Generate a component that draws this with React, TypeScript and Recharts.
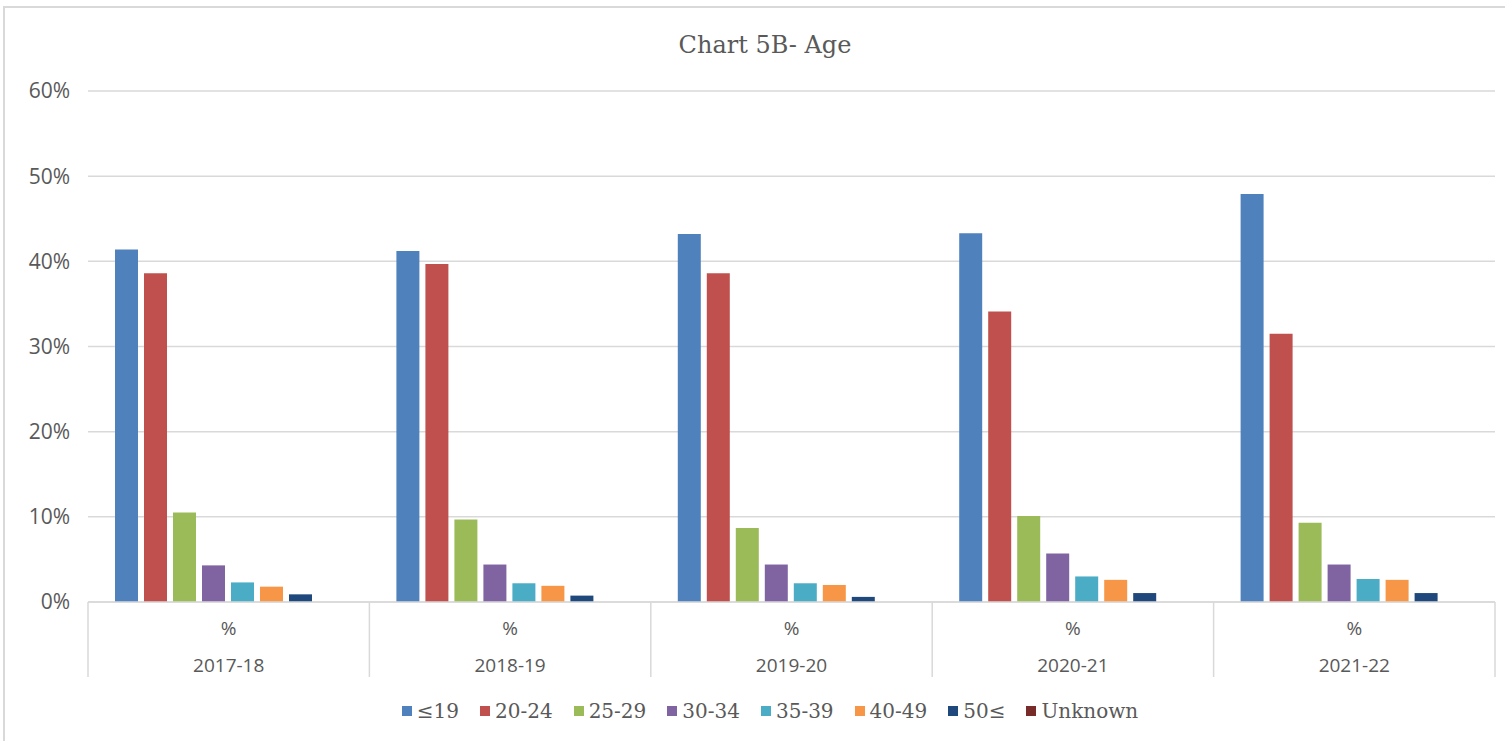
import React from 'react';
import { BarChart, Bar, XAxis, YAxis, CartesianGrid, Legend } from 'recharts';

const years = ['2017-18', '2018-19', '2019-20', '2020-21', '2021-22'];
const subLabel = '%';
const under19 = [41.4, 41.2, 43.2, 43.3, 47.9];
const age2024 = [38.6, 39.7, 38.6, 34.1, 31.5];
const age2529 = [10.5, 9.7, 8.7, 10.1, 9.3];
const age3034 = [4.3, 4.4, 4.4, 5.7, 4.4];
const age3539 = [2.3, 2.2, 2.2, 3.0, 2.7];
const age4049 = [1.8, 1.9, 2.0, 2.6, 2.6];
const age50plus = [0.9, 0.75, 0.6, 1.05, 1.05];
const unknown = [0, 0, 0, 0, 0];
const yTicks = [0, 10, 20, 30, 40, 50, 60];

const seriesDefs = [
  { key: 'u19', name: '≤19', color: '#4f81bd', values: under19 },
  { key: 'a2024', name: '20-24', color: '#c0504d', values: age2024 },
  { key: 'a2529', name: '25-29', color: '#9bbb59', values: age2529 },
  { key: 'a3034', name: '30-34', color: '#8064a2', values: age3034 },
  { key: 'a3539', name: '35-39', color: '#4bacc6', values: age3539 },
  { key: 'a4049', name: '40-49', color: '#f79646', values: age4049 },
  { key: 'a50', name: '50≤', color: '#1f497d', values: age50plus },
  { key: 'unk', name: 'Unknown', color: '#772c2a', values: unknown },
];

const data = years.map((y, i) => {
  const row: any = { year: y };
  seriesDefs.forEach((s) => {
    row[s.key] = s.values[i];
  });
  return row;
});

const GRID = '#d9d9d9';
const TEXT = '#595959';

const CatTick = (props: any) => {
  const { x, y, payload, index, width, visibleTicksCount } = props;
  const n = visibleTicksCount || years.length;
  const half = width / n / 2;
  return (
    <g>
      <line x1={x - half} x2={x - half} y1={y} y2={y + 75} stroke={GRID} strokeWidth={1.5} />
      {index === n - 1 && (
        <line x1={x + half} x2={x + half} y1={y} y2={y + 75} stroke={GRID} strokeWidth={1.5} />
      )}
      <text x={x} y={y + 33} textAnchor="middle" fill={TEXT} fontSize={19} fontFamily="'Open Sans', sans-serif">
        {subLabel}
      </text>
      <text x={x} y={y + 70} textAnchor="middle" fill={TEXT} fontSize={19} fontFamily="'Open Sans', sans-serif">
        {payload.value}
      </text>
    </g>
  );
};

const LegendContent = (props: any) => {
  const payload = [...(props.payload || [])].sort(
    (a: any, b: any) =>
      seriesDefs.findIndex((s) => s.key === a.dataKey) - seriesDefs.findIndex((s) => s.key === b.dataKey)
  );
  return (
    <div
      style={{
        display: 'flex',
        justifyContent: 'center',
        alignItems: 'center',
        height: 30,
        paddingLeft: 35,
        fontFamily: "'DejaVu Serif', serif",
        fontSize: 20,
        color: TEXT,
      }}
    >
      {payload.map((p: any, i: number) => (
        <div key={i} style={{ display: 'flex', alignItems: 'center', marginRight: i < payload.length - 1 ? 21 : 0 }}>
          <span style={{ display: 'inline-block', width: 10, height: 10, background: p.color, marginRight: 5 }} />
          <span>{p.value}</span>
        </div>
      ))}
    </div>
  );
};

export default function App() {
  return (
    <div style={{ position: 'absolute', left: 0, top: 0, width: 1505, height: 741, background: '#fff', overflow: 'hidden' }}>
      <div
        style={{
          position: 'absolute',
          left: 3,
          top: 6,
          width: 1520,
          height: 760,
          borderTop: `2px solid ${GRID}`,
          borderLeft: `2px solid ${GRID}`,
        }}
      />
      <div
        style={{
          position: 'absolute',
          left: 0,
          width: 1530,
          top: 28,
          textAlign: 'center',
          fontFamily: "'DejaVu Serif', serif",
          fontSize: 24,
          color: TEXT,
          lineHeight: '34px',
        }}
      >
        Chart 5B- Age
      </div>
      <div style={{ position: 'absolute', left: 0, top: 0 }}>
        <BarChart
          width={1505}
          height={741}
          data={data}
          margin={{ top: 91, right: 10, left: 20, bottom: 34 }}
          barCategoryGap={27}
          barGap={6}
        >
          <CartesianGrid vertical={false} stroke={GRID} strokeWidth={1.5} />
          <XAxis
            dataKey="year"
            axisLine={{ stroke: GRID, strokeWidth: 1.5 }}
            tickLine={false}
            tickSize={0}
            tickMargin={0}
            height={75}
            interval={0}
            tick={<CatTick />}
          />
          <YAxis
            domain={[0, 60]}
            ticks={yTicks}
            tickFormatter={(v: number) => `${v}%`}
            axisLine={false}
            tickLine={false}
            tickSize={0}
            tickMargin={18}
            width={68}
            tick={{ fill: TEXT, fontSize: 21, fontFamily: "'Open Sans', sans-serif" }}
          />
          <Legend
            verticalAlign="bottom"
            content={<LegendContent />}
            wrapperStyle={{ top: 696, left: 0, width: 1505, height: 30 }}
          />
          {seriesDefs.map((s) => (
            <Bar key={s.key} dataKey={s.key} name={s.name} fill={s.color} isAnimationActive={false} />
          ))}
        </BarChart>
      </div>
    </div>
  );
}
